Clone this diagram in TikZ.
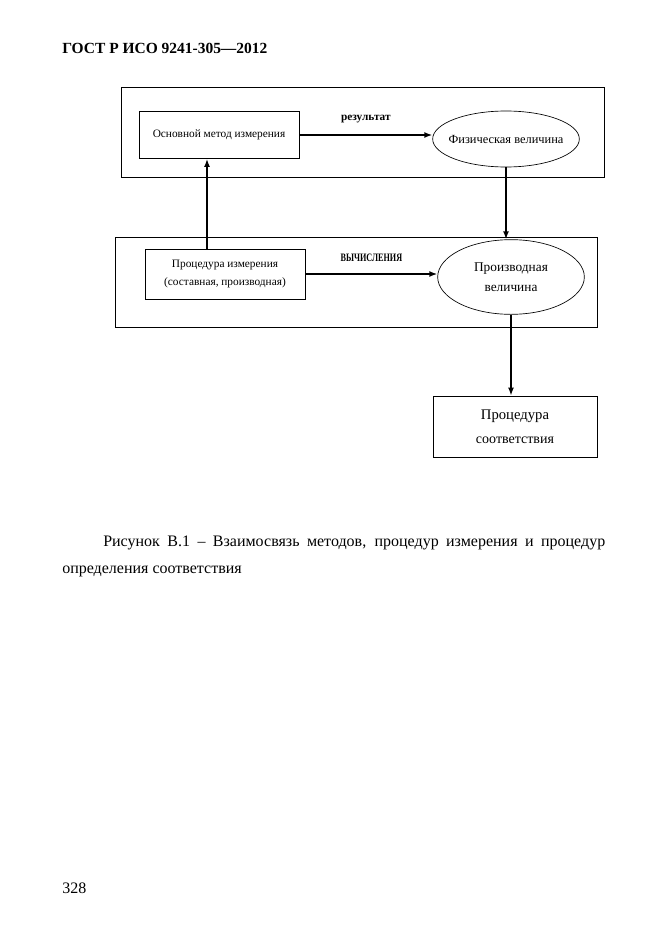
\documentclass[tikz,border=0pt]{standalone}
\usepackage{fontspec}
\setmainfont{Liberation Serif}
\usepackage{graphicx}
\usetikzlibrary{shapes.geometric,arrows.meta}
\begin{document}
\begin{tikzpicture}[x=0.75pt, y=-0.75pt, >={Latex[length=6pt,width=4.5pt]},
		blk/.style={draw, line width=0.6pt, inner sep=0pt, align=center},
		oval/.style={draw, ellipse, line width=0.5pt, inner sep=0pt, align=center},
		link/.style={->, line width=1.3pt},
		lbl/.style={font=\bfseries\fontsize{8.5}{10}\selectfont}]
	\useasboundingbox (0,0) rectangle (661,935);
	% page text
	\node[anchor=base west, inner sep=0pt, font=\bfseries\fontsize{11.6}{13}\selectfont] (hdr) at (62,53) {ГОСТ Р ИСО 9241-305—2012};
	\node[anchor=base west, inner sep=0pt, font=\fontsize{12}{14}\selectfont] (cap1) at (103,546) {\makebox[376.5pt][s]{Рисунок В.1 – Взаимосвязь методов, процедур измерения и процедур}};
	\node[anchor=base west, inner sep=0pt, font=\fontsize{12}{14}\selectfont] (cap2) at (62,573) {определения соответствия};
	\node[anchor=base west, inner sep=0pt, font=\fontsize{12}{14}\selectfont] (pnum) at (62,893) {328};
	% frames
	\draw[line width=0.6pt] (121,87) rectangle (604,177);
	\draw[line width=0.6pt] (115,237) rectangle (597,327);
	% nodes
	\node[blk, minimum width=120pt, minimum height=35.25pt, font=\fontsize{8.5}{11}\selectfont] (osn) at (219,135) {Основной метод измерения};
	\node[oval, inner sep=-6pt, minimum width=110pt, minimum height=42pt, font=\fontsize{9.3}{12}\selectfont] (fiz) at (506,139) {Физическая величина};
	\node[blk, minimum width=120pt, minimum height=37.5pt, font=\fontsize{8.5}{13}\selectfont] (proc) at (225,274) {Процедура измерения\\(составная, производная)};
	\node[oval, minimum width=110pt, minimum height=56pt, font=\fontsize{10}{15}\selectfont] (proizv) at (511,277) {Производная\\величина};
	\node[blk, minimum width=123pt, minimum height=45.75pt, font=\fontsize{11}{18}\selectfont] (sootv) at (515,426.5) {Процедура\\\fontsize{10.5}{18}\selectfont соответствия};
	% connectors
	\draw[link] (osn.east) -- (osn.east -| fiz.west) node[lbl, midway, above=5pt] {результат};
	\draw[link] (proc.east) -- (proc.east -| proizv.west) node[lbl, midway, above=5pt] {\scalebox{0.72}[1]{ВЫЧИСЛЕНИЯ}};
	\draw[link] (proc.north -| 207,0) -- (osn.south -| 207,0);
	\draw[link] (fiz.south) -- (fiz.south |- proizv.north);
	\draw[link] (proizv.south) -- (proizv.south |- sootv.north);
\end{tikzpicture}
\end{document}
